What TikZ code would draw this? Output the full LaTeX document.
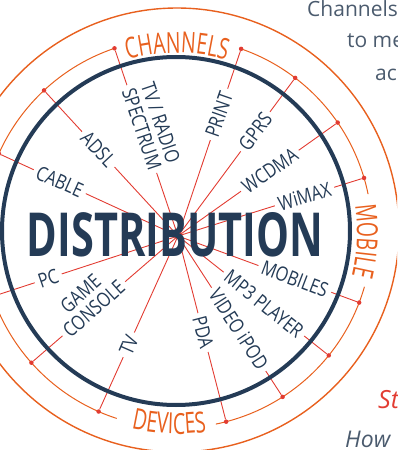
\documentclass[tikz,border=0pt]{standalone}
\usepackage{graphicx}
\usepackage{fontspec}
\setmainfont{Open Sans}
\newfontfamily\lblfont[FakeStretch=0.82]{Open Sans}
\newfontfamily\catfont[FakeStretch=0.67]{Open Sans}
\usetikzlibrary{calc,decorations.text}
\definecolor{navy}{HTML}{243B56}
\definecolor{spokered}{HTML}{E23C32}
\definecolor{catorange}{HTML}{E8601E}
\definecolor{bodygray}{HTML}{4B5B6E}

\begin{document}
\begin{tikzpicture}[x=1pt,y=1pt,
  spoke/.style={spokered,line width=0.9pt},
  ring/.style={catorange,line width=1pt},
  dot/.style={circle,fill=spokered,inner sep=0pt,minimum size=4.5pt},
  lbl/.style={fill=white,text=navy,inner xsep=4pt,inner ysep=0pt,align=center,
    font=\lblfont\fontsize{20}{20}\selectfont},
  catlbl/.style={decorate,decoration={text along path,text align=center,
    text={|\catfont\fontsize{29}{29}\selectfont\color{catorange}|#1}}},
  para/.style={anchor=base west,inner sep=0pt,text=bodygray,font=\fontsize{21}{21}\selectfont}]
    \useasboundingbox (-177,-217) rectangle (220,233);
    \clip (-177,-217) rectangle (220,233);

    % outer ring and the broken inner ring
    \draw[catorange,line width=1.4pt] (0,3) circle[radius=222pt];
    \draw[ring] (70.8:195) arc[start angle=70.8,end angle=11.5,radius=195pt];
    \draw[ring] (-16:195) arc[start angle=-16,end angle=-78.5,radius=195pt];
    \draw[ring] (-108:195) arc[start angle=-108,end angle=-251.3,radius=195pt];

    % hub and end dots
    \coordinate (hub) at (1,-3);
    \node[dot] (dcable) at (156:195) {};
    \node[dot] (dadsl) at (133:195) {};
    \node[dot] (dtvradio) at (108.7:195) {};
    \node[dot] (dprint) at (70.8:195) {};
    \node[dot] (dgprs) at (52.7:195) {};
    \node[dot] (dwcdma) at (34.5:195) {};
    \node[dot] (dwimax) at (16.4:195) {};
    \node[dot] (dmobiles) at (-20.9:195) {};
    \node[dot] (dmp3) at (-38.9:195) {};
    \node[dot] (dipod) at (-57.2:195) {};
    \node[dot] (dpda) at (-75.4:195) {};
    \node[dot] (dtv) at (-113.7:195) {};
    \node[dot] (dgame) at (-138.3:195) {};
    \node[dot] (dpc) at (-161:195) {};

    \draw[spoke] (hub) -- (dcable) (hub) -- (dadsl) (hub) -- (dtvradio)
      (hub) -- (dprint) (hub) -- (dgprs) (hub) -- (dwcdma) (hub) -- (dwimax)
      (hub) -- (dmobiles) (hub) -- (dmp3) (hub) -- (dipod) (hub) -- (dpda)
      (hub) -- (dtv) (hub) -- (dgame) (hub) -- (dpc);

    \draw[navy,line width=4pt] (-1,2) circle[radius=174pt];

    % channels
    \node[lbl,rotate=-24] (cable) at ($(hub)!0.66!(dcable)$) {CABLE};
    \node[lbl,rotate=-47] (adsl) at ($(hub)!0.595!(dadsl)$) {ADSL};
    \node[lbl,rotate=-71.3] (tvradio) at ($(hub)!0.57!(dtvradio)!10pt!-90:(dtvradio)$) {TV / RADIO\\SPECTRUM};
    \node[lbl,rotate=70.8] (print) at ($(hub)!0.65!(dprint)$) {PRINT};
    % mobile
    \node[lbl,rotate=52.7] (gprs) at ($(hub)!0.66!(dgprs)$) {GPRS};
    \node[lbl,rotate=34.5] (wcdma) at ($(hub)!0.575!(dwcdma)$) {WCDMA};
    \node[lbl,rotate=16.4] (wimax) at ($(hub)!0.68!(dwimax)$) {WiMAX};
    \node[lbl,rotate=-20.9] (mobiles) at ($(hub)!0.645!(dmobiles)$) {MOBILES};
    % devices
    \node[lbl,rotate=-38.9] (mp3) at ($(hub)!0.57!(dmp3)$) {MP3 PLAYER};
    \node[lbl,rotate=-57.2] (ipod) at ($(hub)!0.58!(dipod)$) {VIDEO iPOD};
    \node[lbl,rotate=-75.4] (pda) at ($(hub)!0.52!(dpda)$) {PDA};
    \node[lbl,rotate=66.3] (tv) at ($(hub)!0.62!(dtv)$) {TV};
    \node[lbl,rotate=41.7] (game) at ($(hub)!0.575!(dgame)!10pt!-90:(dgame)$) {GAME\\CONSOLE};
    \node[lbl,rotate=19] (pc) at ($(hub)!0.70!(dpc)$) {PC};

    \node[text=navy,inner sep=0pt] (dist) at (-2,-2)
      {\resizebox{296pt}{44pt}{\bfseries DISTRIBUTION}};

    \path[catlbl=CHANNELS] (140:180) arc[start angle=140,end angle=40,radius=180pt];
    \path[catlbl=MOBILE] (37.5:180) arc[start angle=37.5,end angle=-42.5,radius=180pt];
    \path[catlbl=DEVICES] (-137.3:201) arc[start angle=-137.3,end angle=-47.3,radius=201pt];

    % text running beside the wheel
    \node[para] (line1) at (130,216) {Channels};
    \node[para] (line2) at (170,185) {to me};
    \node[para] (line3) at (198,152) {ac};
    \node[para,text=spokered,font=\fontsize{25}{25}\selectfont\itshape] (head) at (201,-175) {St};
    \node[para,font=\fontsize{23}{23}\selectfont\itshape] (line4) at (168,-214) {How};
\end{tikzpicture}
\end{document}
